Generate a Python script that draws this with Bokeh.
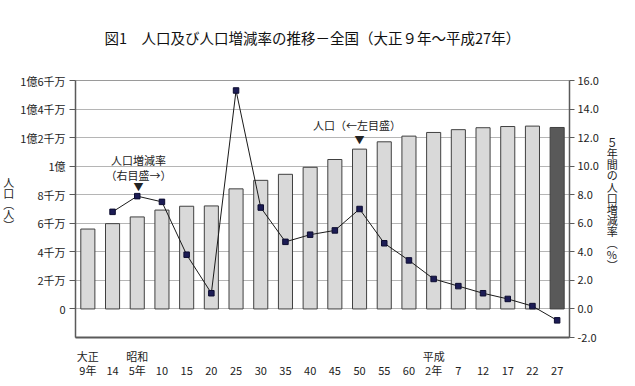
from bokeh.plotting import figure
from bokeh.models import (ColumnDataSource, Range1d, LinearAxis, FixedTicker,
                          Label, NumeralTickFormatter)
from bokeh.embed import file_html
from bokeh.resources import INLINE

# ---------------- data ----------------
era_labels = ["大正", "", "昭和", "", "", "", "", "", "", "", "", "", "", "",
              "平成", "", "", "", "", ""]
year_labels = ["9年", "14", "5年", "10", "15", "20", "25", "30", "35", "40",
               "45", "50", "55", "60", "2年", "7", "12", "17", "22", "27"]
population = [55963053, 59736822, 64450005, 69254148, 71933000, 72147000,
              84114574, 90076594, 94301623, 99209137, 104665171, 111939643,
              117060396, 121048923, 123611167, 125570246, 126925843,
              127767994, 128057352, 127094745]
rate = [float("nan"), 6.8, 7.9, 7.5, 3.8, 1.1, 15.3, 7.1, 4.7, 5.2, 5.5,
        7.0, 4.6, 3.4, 2.1, 1.6, 1.1, 0.7, 0.2, -0.8]
left_ticks = [0, 20000000, 40000000, 60000000, 80000000, 100000000,
              120000000, 140000000, 160000000]
left_tick_labels = ["0", "2千万", "4千万", "6千万", "8千万", "1億",
                    "1億2千万", "1億4千万", "1億6千万"]
right_ticks = [-2, 0, 2, 4, 6, 8, 10, 12, 14, 16]

FONT = "Noto Sans CJK JP"
TXT = "#222222"
idx = list(range(len(year_labels)))
bar_colors = ["#d9d9d9"] * (len(idx) - 1) + ["#595959"]

src = ColumnDataSource(dict(x=idx, pop=population, rate=rate, color=bar_colors))

p = figure(frame_width=494, frame_height=257,
           x_range=Range1d(-0.5, 19.5),
           y_range=Range1d(-20000000, 160000000),
           output_backend="svg", toolbar_location=None,
           min_border_left=0, min_border_right=0,
           min_border_top=0, min_border_bottom=0,
           margin=(19, 0, 0, 0),
           background_fill_color="white", border_fill_color="white",
           outline_line_color="#9a9a9a")
p.extra_y_ranges = {"rate": Range1d(-2, 16)}

# title (above)
p.title.text = "図1　人口及び人口増減率の推移－全国（大正９年～平成27年）"
p.title.align = "left"
p.title.offset = 29
p.title.text_font = FONT
p.title.text_font_size = "14.5px"
p.title.text_font_style = "normal"
p.title.text_color = "#111111"
p.title.padding = dict(left=0, right=0, top=0, bottom=28)

# grid
p.xgrid.visible = False
p.ygrid.ticker = FixedTicker(ticks=left_ticks)
p.ygrid.grid_line_color = "#b5b5b5"
p.ygrid.grid_line_width = 1

# left axis
ya = p.yaxis[0]
ya.ticker = FixedTicker(ticks=left_ticks)
ya.major_label_overrides = {t: s for t, s in zip(left_ticks, left_tick_labels)}
ya.axis_line_color = "#5a5a5a"
ya.axis_line_width = 1.5
ya.major_tick_line_color = "#5a5a5a"
ya.major_tick_out = 6
ya.major_tick_in = 0
ya.minor_tick_line_color = None
ya.major_label_standoff = 4
ya.major_label_text_font = FONT
ya.major_label_text_font_size = "11px"
ya.major_label_text_color = TXT
ya.axis_label = "人\n口\n︵\n人\n︶\n"
ya.axis_label_orientation = "horizontal"
ya.axis_label_standoff = 3
ya.axis_label_text_font = FONT
ya.axis_label_text_font_size = "11px"
ya.axis_label_text_font_style = "normal"
ya.axis_label_text_color = TXT
ya.axis_label_text_line_height = 0.68

# right axis
ra = LinearAxis(y_range_name="rate", ticker=FixedTicker(ticks=right_ticks),
                formatter=NumeralTickFormatter(format="0.0"))
ra.axis_line_color = "#5a5a5a"
ra.axis_line_width = 1.5
ra.major_tick_line_color = "#5a5a5a"
ra.major_tick_out = 5
ra.major_tick_in = 0
ra.minor_tick_line_color = None
ra.major_label_standoff = 3
ra.major_label_text_font = FONT
ra.major_label_text_font_size = "11px"
ra.major_label_text_color = TXT
ra.axis_label = "５\n年\n間\nの\n人\n口\n増\n減\n率\n︵\n%\n︶\n"
ra.axis_label_orientation = "horizontal"
ra.axis_label_standoff = 5
ra.axis_label_text_font = FONT
ra.axis_label_text_font_size = "11px"
ra.axis_label_text_font_style = "normal"
ra.axis_label_text_color = TXT
ra.axis_label_text_line_height = 0.7
p.add_layout(ra, "right")

# bottom axes (era row + year row)
xa = p.xaxis[0]
xa.ticker = FixedTicker(ticks=idx)
xa.major_label_overrides = {i: s for i, s in zip(idx, era_labels)}
xa.axis_line_color = "#5a5a5a"
xa.axis_line_width = 2
xa.major_tick_line_color = None
xa.major_tick_out = 0
xa.major_tick_in = 0
xa.minor_tick_line_color = None
xa.minor_tick_out = 0
xa.major_label_standoff = 10
xa.major_label_text_font = FONT
xa.major_label_text_font_size = "11px"
xa.major_label_text_color = TXT

xb = LinearAxis(ticker=FixedTicker(ticks=idx))
xb.major_label_overrides = {i: s for i, s in zip(idx, year_labels)}
xb.axis_line_color = None
xb.major_tick_line_color = None
xb.major_tick_out = 0
xb.major_tick_in = 0
xb.minor_tick_line_color = None
xb.minor_tick_out = 0
xb.major_label_standoff = -5
xb.major_label_text_font = FONT
xb.major_label_text_font_size = "11px"
xb.major_label_text_color = TXT
p.add_layout(xb, "below")

# bars
p.vbar(x="x", top="pop", bottom=0, width=0.57, source=src,
       fill_color="color", line_color="#404040", line_width=1)

# rate line
p.line(x="x", y="rate", source=src, y_range_name="rate",
       line_color="#1a1a1a", line_width=1)
p.scatter(x="x", y="rate", source=src, y_range_name="rate", marker="square",
          size=5.5, fill_color="#1c1c55", line_color="#0d0d30")

# in-frame annotations (rate-axis data coordinates)
def note(text, x, y, size="11px"):
    p.add_layout(Label(x=x, y=y, y_range_name="rate", text=text,
                       text_font=FONT, text_font_size=size, text_align="center",
                       text_baseline="middle", text_color=TXT))

note("人口増減率", 2.05, 10.45)
note("（右目盛→）", 2.05, 9.4)
note("▼", 2.05, 8.6, size="10px")
note("人口（←左目盛）", 10.9, 12.85)
note("▼", 11.0, 11.9, size="10px")

open("out.html", "w").write(file_html(p, INLINE))
